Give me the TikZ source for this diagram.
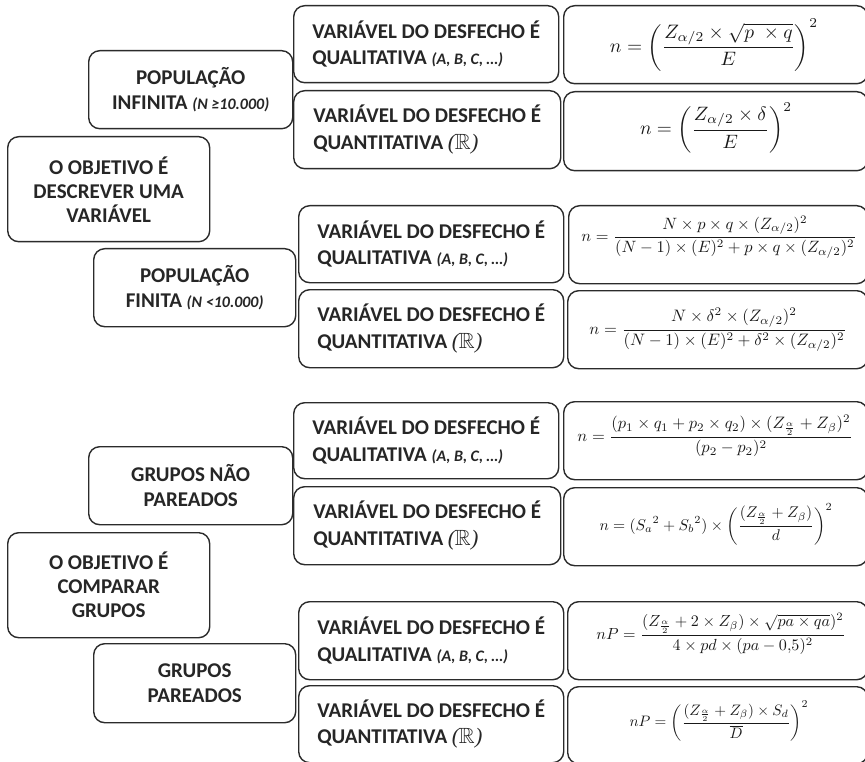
\documentclass[tikz,border=0pt]{standalone}
\usepackage[no-math]{fontspec}
\usepackage{amssymb}
\usepackage{graphicx}
\setmainfont{Carlito}
\newfontfamily\parenfont{Liberation Serif}
\definecolor{boxgray}{HTML}{2B2B2B}
\definecolor{txt}{HTML}{262626}
\newcommand{\smallit}[1]{{\itshape\fontsize{16}{18}\selectfont #1}}
\newcommand{\realset}{{\fontsize{22}{24}\selectfont\mdseries\parenfont\itshape(\kern-0.5pt$\mathbb{R}$\kern0.5pt)}}
\newcommand{\fw}[2]{\resizebox{#1pt}{!}{$\displaystyle #2$}}
\tikzset{
  rbox/.style={draw=boxgray, line width=1.4pt, rounded corners=11pt,
    inner sep=0pt, anchor=north west, text=txt,
    font=\bfseries\fontsize{21}{24}\selectfont},
  cbox/.style={rbox, align=center},
  vbox/.style={rbox, align=left, font=\bfseries\fontsize{21}{26.5}\selectfont},
  fbox/.style={draw=boxgray, line width=1.4pt, rounded corners=11pt,
    inner sep=0pt, anchor=north west},
  ftext/.style={inner sep=0pt, text=black!90},
}
\begin{document}
\begin{tikzpicture}[x=1pt,y=-1pt]
\useasboundingbox (0,0) rectangle (865,762);

% ---------- goal boxes ----------
\node[cbox, minimum width=202pt, minimum height=105pt] (descr) at (7,136)
  {O OBJETIVO É\\DESCREVER UMA\\VARIÁVEL};
\node[cbox, minimum width=202pt, minimum height=105pt] (compar) at (7,532)
  {O OBJETIVO É\\COMPARAR\\GRUPOS};

% ---------- population / group boxes ----------
\node[cbox, minimum width=204pt, minimum height=78pt, font=\bfseries\fontsize{21}{25}\selectfont] (popinf) at (88,50)
  {POPULAÇÃO\\INFINITA \smallit{(N ≥10.000)}};
\node[cbox, minimum width=202pt, minimum height=78pt, font=\bfseries\fontsize{21}{25}\selectfont] (popfin) at (93,248)
  {POPULAÇÃO\\FINITA \smallit{(N <10.000)}};
\node[cbox, minimum width=204pt, minimum height=78pt, font=\bfseries\fontsize{21}{25}\selectfont] (gnp) at (88,446)
  {GRUPOS NÃO\\PAREADOS};
\node[cbox, minimum width=202pt, minimum height=79pt, font=\bfseries\fontsize{21}{25}\selectfont] (gp) at (93,643)
  {GRUPOS\\PAREADOS};

% ---------- outcome-variable boxes ----------
\node[vbox, minimum width=265pt, minimum height=77pt] (v1a) at (293,5)
  {VARIÁVEL DO DESFECHO É\\QUALITATIVA \smallit{(A, B, C, …)}};
\node[vbox, minimum width=267pt, minimum height=78pt] (v1b) at (293,90)
  {VARIÁVEL DO DESFECHO É\\QUANTITATIVA \realset};
\node[vbox, minimum width=265pt, minimum height=77pt] (v2a) at (298,205)
  {VARIÁVEL DO DESFECHO É\\QUALITATIVA \smallit{(A, B, C, …)}};
\node[vbox, minimum width=265pt, minimum height=78pt] (v2b) at (298,289)
  {VARIÁVEL DO DESFECHO É\\QUANTITATIVA \realset};
\node[vbox, minimum width=265pt, minimum height=76pt] (v3a) at (293,402)
  {VARIÁVEL DO DESFECHO É\\QUALITATIVA \smallit{(A, B, C, …)}};
\node[vbox, minimum width=267pt, minimum height=78pt] (v3b) at (293,486)
  {VARIÁVEL DO DESFECHO É\\QUANTITATIVA \realset};
\node[vbox, minimum width=265pt, minimum height=78pt] (v4a) at (298,601)
  {VARIÁVEL DO DESFECHO É\\QUALITATIVA \smallit{(A, B, C, …)}};
\node[vbox, minimum width=265pt, minimum height=77pt] (v4b) at (298,685)
  {VARIÁVEL DO DESFECHO É\\QUANTITATIVA \realset};

% ---------- formula frames ----------
\node[fbox, minimum width=304pt, minimum height=78pt] (f1) at (563,5) {};
\node[fbox, minimum width=304pt, minimum height=79pt] (f2) at (563,91) {};
\node[fbox, minimum width=299pt, minimum height=78pt] (f3) at (568,205) {};
\node[fbox, minimum width=300pt, minimum height=78pt] (f4) at (567,290) {};
\node[fbox, minimum width=304pt, minimum height=78pt] (f5) at (563,401) {};
\node[fbox, minimum width=304pt, minimum height=78pt] (f6) at (563,487) {};
\node[fbox, minimum width=300pt, minimum height=78pt] (f7) at (567,601) {};
\node[fbox, minimum width=300pt, minimum height=77pt] (f8) at (567,686) {};

% ---------- formulas ----------
\node[ftext] (f1t) at (714,45)
  {\fw{208}{n=\left(\frac{Z_{\alpha/2}\times\sqrt{p\;\times q}}{E}\right)^{2}}};
\node[ftext] (f2t) at (716,128)
  {\fw{152}{n=\left(\frac{Z_{\alpha/2}\times\delta}{E}\right)^{2}}};
\node[ftext] (f3t) at (719,237)
  {\fw{275}{n=\frac{N\times p\times q\times(Z_{\alpha/2})^{2}}{(N-1)\times(E)^{2}+p\times q\times(Z_{\alpha/2})^{2}}}};
\node[ftext] (f4t) at (718,330)
  {\fw{257}{n=\frac{N\times\delta^{2}\times(Z_{\alpha/2})^{2}}{(N-1)\times(E)^{2}+\delta^{2}\times(Z_{\alpha/2})^{2}}}};
\node[ftext] (f5t) at (715,436)
  {\fw{275}{n=\frac{(p_{1}\times q_{1}+p_{2}\times q_{2})\times(Z_{\frac{\alpha}{2}}+Z_{\beta})^{2}}{(p_{2}-p_{2})^{2}}}};
\node[ftext] (f6t) at (716,524)
  {\fw{233}{n=(S_{a}{}^{2}+S_{b}{}^{2})\times\left(\frac{(Z_{\frac{\alpha}{2}}+Z_{\beta})}{d}\right)^{2}}};
\node[ftext] (f7t) at (721,634)
  {\fw{249}{nP=\frac{(Z_{\frac{\alpha}{2}}+2\times Z_{\beta})\times\sqrt{pa\times qa})^{2}}{4\times pd\times(pa-0{,}5)^{2}}}};
\node[ftext] (f8t) at (719,721)
  {\fw{179}{nP=\left(\frac{(Z_{\frac{\alpha}{2}}+Z_{\beta})\times S_{d}}{\overline{D}}\right)^{2}}};
\end{tikzpicture}
\end{document}
